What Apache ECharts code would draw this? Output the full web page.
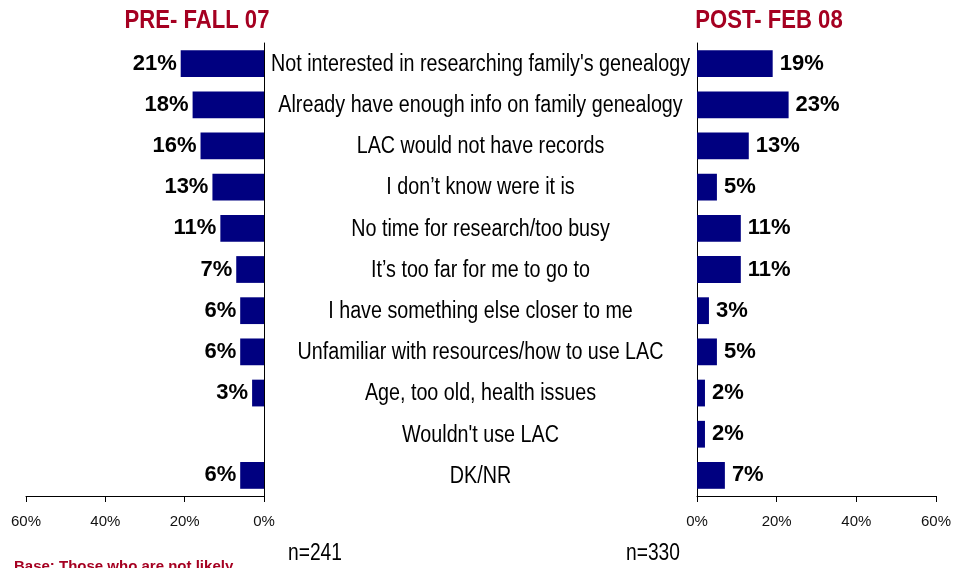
<!DOCTYPE html>
<html>
<head>
<meta charset="utf-8">
<script src="https://cdn.jsdelivr.net/npm/echarts@6/dist/echarts.min.js"></script>
<style>
  html, body { margin: 0; padding: 0; background: #fff; }
  #chart { width: 954px; height: 568px; }
</style>
</head>
<body>
<div id="chart"></div>
<script>
const reasons = [
  "Not interested in researching family's genealogy",
  'Already have enough info on family genealogy',
  'LAC would not have records',
  'I don\u2019t know were it is',
  'No time for research/too busy',
  'It\u2019s too far for me to go to',
  'I have something else closer to me',
  'Unfamiliar with resources/how to use LAC',
  'Age, too old, health issues',
  "Wouldn't use LAC",
  'DK/NR'
]
const preFall07 = [21, 18, 16, 13, 11, 7, 6, 6, 3, null, 6]   // PRE- FALL 07
const postFeb08 = [19, 23, 13, 5, 11, 11, 3, 5, 2, 2, 7]      // POST- FEB 08
const axisTicks = [0, 20, 40, 60]

const sans = '"Liberation Sans", Arial, sans-serif'
const navy = '#000080'
const red = '#A50021'

const chart = echarts.init(document.getElementById('chart'))

const valueAxis = (gridIndex, inverse) => ({
  type: 'value',
  gridIndex: gridIndex,
  inverse: inverse,
  min: axisTicks[0],
  max: axisTicks[axisTicks.length - 1],
  interval: 20,
  axisLine: { show: true, lineStyle: { color: '#000', width: 1 } },
  axisTick: { show: true, length: 6, lineStyle: { color: '#000' } },
  splitLine: { show: false },
  axisLabel: {
    color: '#111', fontSize: 15, fontFamily: sans, margin: 18,
    formatter: v => v + '%'
  }
})

const barLabel = (pos, dist) => ({
  show: true,
  position: pos,
  distance: dist,
  color: '#000',
  fontSize: 22,
  fontWeight: 'bold',
  fontFamily: sans,
  formatter: p => (p.value == null ? '' : p.value + '%')
})

// narrow-looking text: no condensed font installed, so squeeze horizontally
const narrowText = (text, x, y, size, sx, opts) => Object.assign({
  type: 'text', x: x, y: y, scaleX: sx, silent: true,
  style: Object.assign({
    text: text, fontSize: size, fontFamily: sans, fill: '#000',
    align: 'center', verticalAlign: 'middle'
  }, opts || {})
})

chart.setOption({
  animation: false,
  grid: [
    { left: 26, right: 690, top: 43, bottom: 72 },
    { left: 697, right: 18, top: 43, bottom: 72 }
  ],
  xAxis: [valueAxis(0, true), valueAxis(1, false)],
  yAxis: [
    {
      type: 'category', gridIndex: 0, data: reasons, inverse: true, position: 'right',
      axisLine: { show: true, lineStyle: { color: '#000' } },
      axisTick: { show: false },
      axisLabel: { show: false }
    },
    {
      type: 'category', gridIndex: 1, data: reasons, inverse: true,
      axisLine: { show: true, lineStyle: { color: '#000' } },
      axisTick: { show: false },
      axisLabel: { show: false }
    }
  ],
  series: [
    {
      name: 'PRE- FALL 07', type: 'bar', xAxisIndex: 0, yAxisIndex: 0,
      data: preFall07, barCategoryGap: '35%',
      itemStyle: { color: navy },
      label: barLabel('left', 4)
    },
    {
      name: 'POST- FEB 08', type: 'bar', xAxisIndex: 1, yAxisIndex: 1,
      data: postFeb08, barCategoryGap: '35%',
      itemStyle: { color: navy },
      label: barLabel('right', 7)
    }
  ]
})

// category labels centred between the two axes, rows taken from the y axis
const leftX = chart.convertToPixel({ xAxisIndex: 0 }, 0)
const rightX = chart.convertToPixel({ xAxisIndex: 1 }, 0)
const midX = (leftX + rightX) / 2
const labels = reasons.map((r, i) =>
  narrowText(r, midX, chart.convertToPixel({ yAxisIndex: 1 }, i) + 1, 23, 0.857))

const titleStyle = { fill: red, fontWeight: 'bold' }
chart.setOption({
  graphic: labels.concat([
    narrowText('PRE- FALL 07', 197, 21, 26, 0.85, titleStyle),
    narrowText('POST- FEB 08', 769, 21, 26, 0.85, titleStyle),
    narrowText('n=241', 315, 553, 24, 0.8),
    narrowText('n=330', 653, 553, 24, 0.8),
    {
      type: 'text', x: 14, y: 559, silent: true,
      style: { text: 'Base: Those who are not likely', fontSize: 15, fontWeight: 'bold', fontFamily: sans, fill: red }
    }
  ])
})
</script>
</body>
</html>
